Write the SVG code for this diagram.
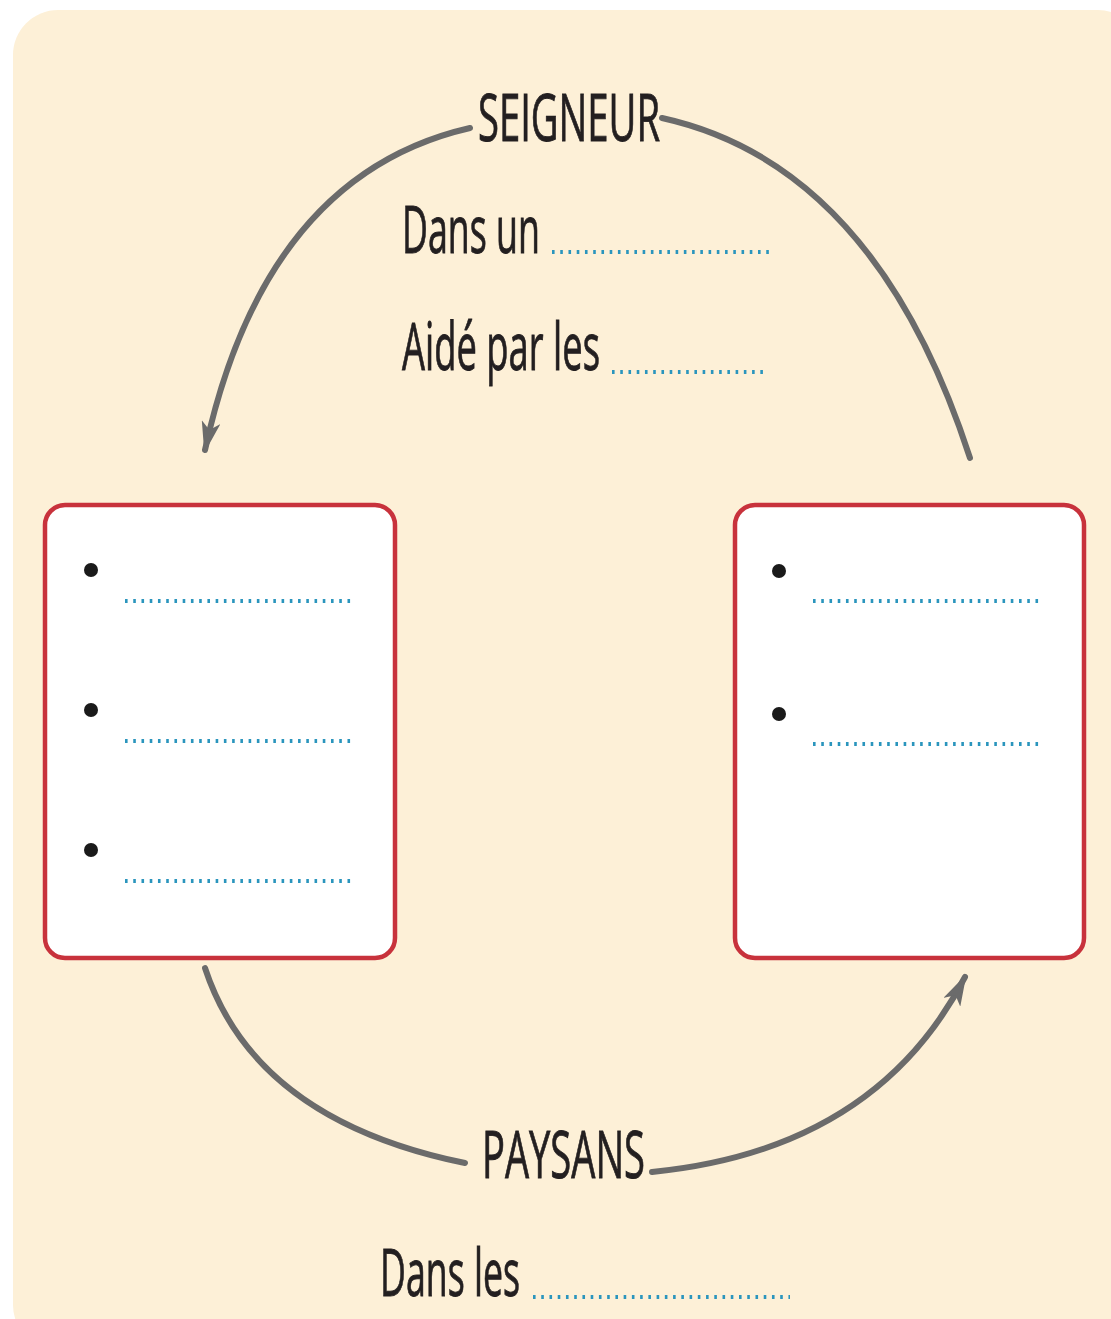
<svg xmlns="http://www.w3.org/2000/svg" width="1111" height="1319" viewBox="0 0 1111 1319">
<style>
.lbl{font-family:"Open Sans","DejaVu Sans",sans-serif;font-size:66px;fill:#231f20;stroke:#231f20;stroke-width:0.9}
.dots{stroke:#2a95bd;stroke-width:4;stroke-dasharray:2.6 5.64;fill:none}
.box{fill:#ffffff;stroke:#c8323c;stroke-width:4.5}
.arc{fill:none;stroke:#6b6b6b;stroke-width:6;stroke-linecap:round}
.bul{fill:#1a1a1a}
</style>
<defs>
<marker id="ah" viewBox="0 0 20 12" refX="18" refY="6" markerWidth="32" markerHeight="19" markerUnits="userSpaceOnUse" orient="auto">
<path d="M0 0 L20 6 L0 12 L5 6 Z" fill="#6b6b6b"/>
</marker>
</defs>
<rect x="0" y="0" width="1111" height="1319" fill="#ffffff"/>
<rect x="13" y="10" width="1130" height="1340" rx="45" fill="#fdf0d7"/>
<g id="connectors">
<path class="arc" d="M470 128 Q265 175 205 450" marker-end="url(#ah)"/>
<path class="arc" d="M662 118 Q875 165 970 458"/>
<path class="arc" d="M205 968 Q255 1120 465 1163"/>
<path class="arc" d="M652 1172 Q875 1150 965 977" marker-end="url(#ah)"/>
</g>
<g id="seigneur">
<text class="lbl" x="478" y="141" textLength="182" lengthAdjust="spacingAndGlyphs">SEIGNEUR</text>
<text class="lbl" x="402" y="253" textLength="138" lengthAdjust="spacingAndGlyphs">Dans un</text>
<line class="dots" x1="552" y1="252" x2="770" y2="252"/>
<text class="lbl" x="402" y="370" textLength="198" lengthAdjust="spacingAndGlyphs">Aidé par les</text>
<line class="dots" x1="612" y1="372" x2="766" y2="372"/>
</g>
<g id="box-left">
<rect class="box" x="45" y="505" width="350" height="453" rx="20"/>
<circle class="bul" cx="91" cy="570" r="7"/>
<circle class="bul" cx="91" cy="710" r="7"/>
<circle class="bul" cx="91" cy="850" r="7"/>
<line class="dots" x1="125" y1="601" x2="352" y2="601"/>
<line class="dots" x1="125" y1="741" x2="352" y2="741"/>
<line class="dots" x1="125" y1="881" x2="352" y2="881"/>
</g>
<g id="box-right">
<rect class="box" x="735" y="505" width="349" height="453" rx="20"/>
<circle class="bul" cx="779" cy="571" r="7"/>
<circle class="bul" cx="779" cy="714" r="7"/>
<line class="dots" x1="813" y1="601" x2="1040" y2="601"/>
<line class="dots" x1="813" y1="744" x2="1040" y2="744"/>
</g>
<g id="paysans">
<text class="lbl" x="482" y="1178" textLength="163" lengthAdjust="spacingAndGlyphs">PAYSANS</text>
<text class="lbl" x="380" y="1296" textLength="140" lengthAdjust="spacingAndGlyphs">Dans les</text>
<line class="dots" x1="533" y1="1297" x2="790" y2="1297"/>
</g>
</svg>
